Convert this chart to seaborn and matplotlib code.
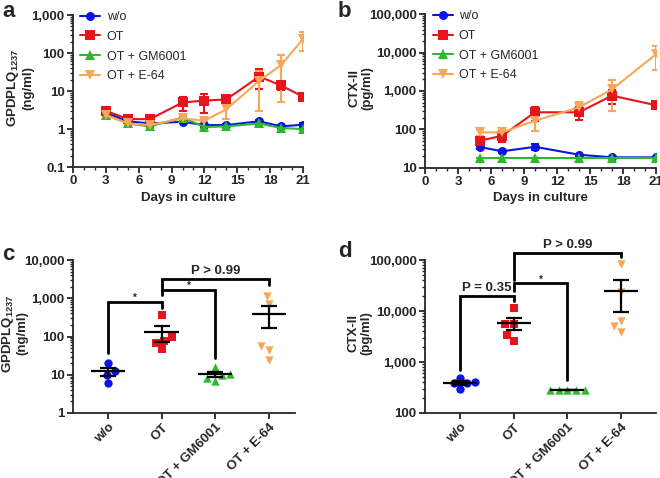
import numpy as np
import pandas as pd
import seaborn as sns
import matplotlib.pyplot as plt
from matplotlib.ticker import FuncFormatter, MultipleLocator, LogLocator, NullFormatter

sns.set_style('ticks')
plt.rcParams['font.family'] = ['Liberation Sans', 'DejaVu Sans']
plt.rcParams['mathtext.fontset'] = 'custom'
plt.rcParams['mathtext.bf'] = 'Liberation Sans:bold'
plt.rcParams['mathtext.rm'] = 'Liberation Sans:bold'
plt.rcParams['mathtext.default'] = 'bf'

groups = ['w/o', 'OT', 'OT + GM6001', 'OT + E-64']
colors = {'w/o': '#0A14E6', 'OT': '#E8141C', 'OT + GM6001': '#2DB82D', 'OT + E-64': '#F8A65A'}
markers = {'w/o': 'o', 'OT': 's', 'OT + GM6001': '^', 'OT + E-64': 'v'}

# panel a: GPDPLQ1237 over time (mean, SEM)
days_a = [3, 5, 7, 10, 12, 14, 17, 19, 21]
a_wo = [2.7, 1.6, 1.4, 1.55, 1.27, 1.27, 1.6, 1.17, 1.3]
a_wo_sem = [0.2, 0.15, 0.1, 0.15, 0.1, 0.1, 0.15, 0.1, 0.1]
a_ot = [3.0, 1.85, 1.8, 5.0, 5.6, 6.0, 24, 14, 7.1]
a_ot_sem = [0.3, 0.2, 0.2, 2.0, 3.0, 1.5, 13, 3.5, 1.0]
a_gm = [2.4, 1.4, 1.17, 2.0, 1.13, 1.17, 1.4, 1.06, 1.0]
a_gm_sem = [0.15, 0.1, 0.1, 0.15, 0.08, 0.08, 0.1, 0.06, 0.05]
a_e64 = [2.3, 1.4, 1.27, 1.9, 1.65, 3.3, 18.5, 48, 235]
a_e64_sem = [0.15, 0.1, 0.1, 0.15, 0.15, 1.5, 15.5, 43, 125]

# panel b: CTX-II over time (mean, SEM)
days_b = [5, 7, 10, 14, 17, 21]
b_wo = [34.6, 26.7, 35, 21.8, 18.6, 18.6]
b_wo_sem = [3, 2.5, 6, 1.5, 0.5, 0.5]
b_ot = [50.6, 68, 278, 278, 755, 425]
b_ot_sem = [12, 22, 115, 100, 290, 40]
b_gm = [18, 18, 18, 18, 18, 18]
b_gm_sem = [0, 0, 0, 0, 0, 0]
b_e64 = [83, 83, 168, 375, 1100, 9100]
b_e64_sem = [15, 12, 80, 150, 800, 5500]

# panel c: GPDPLQ1237 individual values
c_wo = [20, 6.0, 12.8, 9.9]
c_ot = [367, 78, 69, 97, 47]
c_gm = [9.9, 7.0, 15.7, 8.1, 10.3]
c_e64 = [1150, 710, 58, 45, 25]

# panel d: CTX-II individual values
d_wo = [490, 390, 400, 300, 380]
d_ot = [11700, 5560, 5560, 3390, 2620]
d_gm = [280, 280, 280, 280, 280]
d_e64 = [83700, 24000, 6450, 5060, 3900]


def fmt_log(v, pos):
    if v < 1:
        return f'{v:g}'
    return f'{v:,.0f}'


def style_axis(ax, label_x):
    sns.despine(ax=ax)
    for s in ax.spines.values():
        s.set_linewidth(1.3)
    ax.tick_params(which='major', length=4, width=1.3, labelsize=9.5, pad=2)
    ax.tick_params(which='minor', length=2.5, width=1.0)
    ax.yaxis.set_major_formatter(FuncFormatter(fmt_log))
    ax.yaxis.set_minor_locator(LogLocator(base=10, subs=np.arange(2, 10)))
    ax.yaxis.set_minor_formatter(NullFormatter())
    for lab in ax.get_xticklabels() + ax.get_yticklabels():
        lab.set_fontweight('bold')
    # x is the right edge of the rotated label
    ax.yaxis.set_label_coords(label_x, 0.52)


def time_panel(ax, days, series, sems, ylim, ylabel, label_x):
    rows = []
    for g, vals in zip(groups, series):
        for d, v in zip(days, vals):
            rows.append({'day': d, 'val': v, 'group': g})
    df = pd.DataFrame(rows)
    ax.set_yscale('log')
    sns.lineplot(data=df, x='day', y='val', hue='group', style='group', hue_order=groups,
                 style_order=groups, palette=colors, markers=markers, dashes=False,
                 linewidth=1.5, markersize=6.5, markeredgewidth=0, ax=ax, zorder=3)
    for g, vals, err in zip(groups, series, sems):
        ax.errorbar(days, vals, yerr=err, fmt='none', ecolor=colors[g], elinewidth=1.5,
                    capsize=3, capthick=1.5, zorder=2)
    ax.set_xlim(0, 21)
    ax.set_ylim(*ylim)
    ax.xaxis.set_major_locator(MultipleLocator(3))
    ax.xaxis.set_minor_locator(MultipleLocator(1))
    ax.set_xlabel('Days in culture', fontsize=9.5, fontweight='bold', labelpad=3)
    ax.set_ylabel(ylabel, fontsize=9.5, fontweight='bold', linespacing=1.05)
    leg = ax.legend(loc='upper left', bbox_to_anchor=(0.0, 1.075), frameon=False,
                    fontsize=9, handlelength=1.6, handletextpad=0.5, labelspacing=0.62,
                    borderaxespad=0.2)
    for ln in leg.get_lines():
        ln.set_linewidth(1.5)
    style_axis(ax, label_x)


def dot_panel(ax, values, ylim, xlim, ylabel, label_x):
    ax.set_yscale('log')
    df = pd.DataFrame([{'group': g, 'val': v} for g, vals in zip(groups, values) for v in vals])
    for g in groups:
        sub = df[df['group'] == g]
        sns.swarmplot(data=sub, x='group', y='val', order=groups, color=colors[g],
                      marker=markers[g], size=6, linewidth=0, ax=ax, zorder=3)
    stats = df.groupby('group', sort=False)['val'].agg(['mean', 'sem']).reindex(groups)
    pos = np.arange(len(groups))
    ax.hlines(stats['mean'], pos - 0.32, pos + 0.32, color='black', lw=1.6, zorder=4)
    ax.errorbar(pos, stats['mean'], yerr=stats['sem'], fmt='none', ecolor='black',
                elinewidth=1.6, capsize=5.5, capthick=1.6, zorder=4)
    ax.set_ylim(*ylim)
    ax.set_xlim(*xlim)
    ax.set_xlabel('')
    ax.set_ylabel(ylabel, fontsize=9.5, fontweight='bold', linespacing=1.05)
    ax.set_xticks(pos)
    ax.set_xticklabels(groups, rotation=45, ha='right', rotation_mode='anchor')
    style_axis(ax, label_x)


def bracket(ax, x1, x2, h, y1, y2, text='', fs=9.5, off=1.5):
    ax.plot([x1, x1, x2, x2], [y1, h, h, y2], color='black', lw=2.0, clip_on=False,
            solid_joinstyle='miter', zorder=5)
    if text:
        ax.annotate(text, xy=((x1 + x2) / 2, h), xytext=(0, off), textcoords='offset points',
                    ha='center', va='bottom', fontsize=fs, fontweight='bold',
                    annotation_clip=False)


fig = plt.figure(figsize=(6.6, 4.78), dpi=100)
ax_a = fig.add_axes([0.1106, 0.6506, 0.3485, 0.318])
ax_b = fig.add_axes([0.644, 0.6492, 0.35, 0.321])
ax_c = fig.add_axes([0.1106, 0.136, 0.336, 0.32])
ax_d = fig.add_axes([0.644, 0.136, 0.35, 0.32])

ylabel_g = 'GPDPLQ$_{1237}$\n(ng/ml)'
ylabel_c = 'CTX-II\n(pg/ml)'

time_panel(ax_a, days_a, [a_wo, a_ot, a_gm, a_e64], [a_wo_sem, a_ot_sem, a_gm_sem, a_e64_sem],
           (0.1, 1000), ylabel_g, -0.17)
time_panel(ax_b, days_b, [b_wo, b_ot, b_gm, b_e64], [b_wo_sem, b_ot_sem, b_gm_sem, b_e64_sem],
           (10, 100000), ylabel_c, -0.225)

dot_panel(ax_c, [c_wo, c_ot, c_gm, c_e64], (1, 10000), (-0.65, 3.48), ylabel_g, -0.2)
dot_panel(ax_d, [d_wo, d_ot, d_gm, d_e64], (100, 100000), (-0.66, 3.66), ylabel_c, -0.228)

bracket(ax_c, 0, 1, 820, 37, 560, '*', fs=7, off=-1)
bracket(ax_c, 1, 2, 1660, 1230, 27, '*', fs=7, off=-1)
bracket(ax_c, 1, 3, 3160, 1660, 2240, 'P > 0.99')

bracket(ax_d, 0, 1, 20000, 690, 16000, 'P = 0.35')
bracket(ax_d, 1, 2, 35000, 25000, 440, '*', fs=7, off=-1)
bracket(ax_d, 1, 3, 138000, 40000, 115000, 'P > 0.99')

fig.text(0.003, 0.998, 'a', fontsize=16, fontweight='bold', va='top')
fig.text(0.512, 0.998, 'b', fontsize=16, fontweight='bold', va='top')
fig.text(0.003, 0.49, 'c', fontsize=16, fontweight='bold', va='top')
fig.text(0.512, 0.495, 'd', fontsize=16, fontweight='bold', va='top')

fig.savefig('out.png', dpi=100)
